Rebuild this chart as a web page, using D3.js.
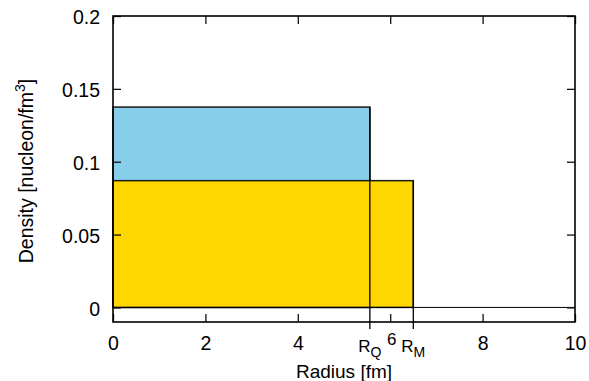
<!DOCTYPE html>
<html>
<head>
<meta charset="utf-8">
<script src="https://cdn.jsdelivr.net/npm/d3@7"></script>
<style>
  html, body { margin: 0; padding: 0; background: #fff; }
  svg { display: block; font-family: "Liberation Sans", Arial, Helvetica, sans-serif; }
</style>
</head>
<body>
<svg id="chart" width="589" height="381"></svg>
<script>
// ---- data ----
const xTicks = [0, 2, 4, 6, 8, 10];
const xTickLabels = ["0", "2", "4", "6", "8", "10"];
const yTicks = [0, 0.05, 0.1, 0.15, 0.2];
const yTickLabels = ["0", "0.05", "0.1", "0.15", "0.2"];
const regionNames = ["Q", "M"];          // R_Q, R_M
const regionRadii = [5.56, 6.5];          // fm
const regionDensities = [0.1375, 0.087];  // nucleon/fm^3
const regionColors = ["#87CEEB", "#FFD700"];
const xDomain = [0, 10];
const yDomain = [-0.01, 0.2];

(function () {
// ---- layout ----
const svg = d3.select("#chart");
const pL = 113, pR = 575, pT = 16, pB = 322;
const x = d3.scaleLinear().domain(xDomain).range([pL, pR]);
const y = d3.scaleLinear().domain(yDomain).range([pB, pT]);
const FS = 19.5;

// boxes (blue first, then gold on top)
const boxes = regionNames.map((n, i) => ({ name: n, r: regionRadii[i], rho: regionDensities[i], color: regionColors[i] }));
svg.append("g").selectAll("rect").data(boxes).join("rect")
  .attr("x", x(0))
  .attr("y", d => y(d.rho))
  .attr("width", d => x(d.r) - x(0))
  .attr("height", d => y(0) - y(d.rho))
  .attr("fill", d => d.color)
  .attr("stroke", "#1a1a1a")
  .attr("stroke-width", 1.5);

// zero line
svg.append("line")
  .attr("x1", x(xDomain[0])).attr("x2", x(xDomain[1]))
  .attr("y1", y(0)).attr("y2", y(0))
  .attr("stroke", "#000").attr("stroke-width", 1);

// vertical marker lines at R_Q and R_M extending below the axis
svg.append("g").selectAll("line").data(boxes).join("line")
  .attr("x1", d => x(d.r)).attr("x2", d => x(d.r))
  .attr("y1", d => y(d.rho)).attr("y2", pB + 7)
  .attr("stroke", "#000").attr("stroke-width", 1.3);

// axes with inward ticks
const tickStyle = g => {
  g.select(".domain").remove();
  g.selectAll(".tick line").attr("stroke", "#111").attr("stroke-width", 1.3);
  g.selectAll("text").attr("font-size", FS).attr("fill", "#000")
    .attr("font-family", "Liberation Sans, Arial, sans-serif");
};

const xb = svg.append("g").attr("transform", `translate(0,${pB})`)
  .call(d3.axisBottom(x).tickValues(xTicks).tickFormat((d, i) => xTickLabels[i])
    .tickSize(-8).tickPadding(14))
  .call(tickStyle);
// the "6" label is drawn smaller and slightly raised in the original
xb.selectAll(".tick text").filter(d => d === 6)
  .attr("font-size", 17).attr("y", 23).attr("dy", 0).attr("x", 1);

svg.append("g").attr("transform", `translate(0,${pT})`)
  .call(d3.axisTop(x).tickValues(xTicks).tickFormat("").tickSize(-8))
  .call(tickStyle);

svg.append("g").attr("transform", `translate(${pL},0)`)
  .call(d3.axisLeft(y).tickValues(yTicks).tickFormat((d, i) => yTickLabels[i])
    .tickSize(-8).tickPadding(13))
  .call(tickStyle)
  .selectAll("text").attr("dy", "0.4em");

svg.append("g").attr("transform", `translate(${pR},0)`)
  .call(d3.axisRight(y).tickValues(yTicks).tickFormat("").tickSize(-8))
  .call(tickStyle);

// frame
svg.append("rect")
  .attr("x", pL).attr("y", pT)
  .attr("width", pR - pL).attr("height", pB - pT)
  .attr("fill", "none").attr("stroke", "#000").attr("stroke-width", 1.6);

// R_Q / R_M labels
const rl = svg.append("g").selectAll("text").data(boxes).join("text")
  .attr("x", d => x(d.r)).attr("y", 352)
  .attr("text-anchor", "middle")
  .attr("font-size", 17);
rl.append("tspan").text("R");
rl.append("tspan").attr("dy", 5).attr("font-size", 14).text(d => d.name);

// axis titles
svg.append("text")
  .attr("x", (pL + pR) / 2).attr("y", 378)
  .attr("text-anchor", "middle").attr("font-size", 19)
  .text("Radius [fm]");

const yl = svg.append("text")
  .attr("transform", `translate(33,${(pT + pB) / 2 + 2}) rotate(-90)`)
  .attr("text-anchor", "middle").attr("font-size", 19.5);
yl.append("tspan").text("Density [nucleon/fm");
yl.append("tspan").attr("dy", -8).attr("font-size", 14).text("3");
yl.append("tspan").attr("dy", 8).text("]");
})();
</script>
</body>
</html>
